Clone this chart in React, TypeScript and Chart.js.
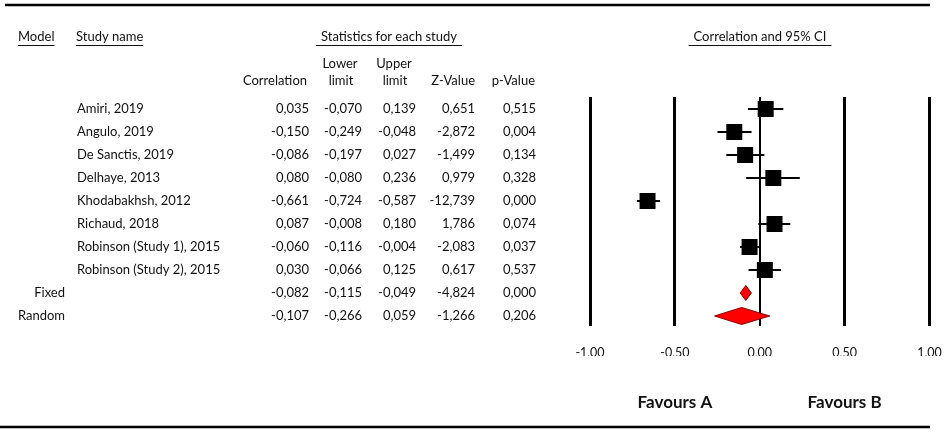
import React, { useEffect, useRef } from "react";
import { Chart, registerables } from "chart.js";

Chart.register(...registerables);

const studies = [
  "Amiri, 2019",
  "Angulo, 2019",
  "De Sanctis, 2019",
  "Delhaye, 2013",
  "Khodabakhsh, 2012",
  "Richaud, 2018",
  "Robinson (Study 1), 2015",
  "Robinson (Study 2), 2015",
];
const correlation = [0.035, -0.15, -0.086, 0.08, -0.661, 0.087, -0.06, 0.03];
const lowerLimit = [-0.07, -0.249, -0.197, -0.08, -0.724, -0.008, -0.116, -0.066];
const upperLimit = [0.139, -0.048, 0.027, 0.236, -0.587, 0.18, -0.004, 0.125];
const zValue = [0.651, -2.872, -1.499, 0.979, -12.739, 1.786, -2.083, 0.617];
const pValue = [0.515, 0.004, 0.134, 0.328, 0.0, 0.074, 0.037, 0.537];

const models = ["Fixed", "Random"];
const modelCorrelation = [-0.082, -0.107];
const modelLower = [-0.115, -0.266];
const modelUpper = [-0.049, 0.059];
const modelZ = [-4.824, -1.266];
const modelP = [0.0, 0.206];

const xTicks = [-1, -0.5, 0, 0.5, 1];
const xTickLabels = ["-1,00", "-0,50", "0,00", "0,50", "1,00"];
const favours = ["Favours A", "Favours B"];
const favoursAt = [-0.5, 0.5];

const FONT = "Lato, 'Open Sans', sans-serif";
const TEXT = "#111111";

const fmt3 = (v: number) => v.toFixed(3).replace(".", ",");

const tablePlugin = {
  id: "forestTable",
  beforeDatasetsDraw(chart: any) {
    const ctx = chart.ctx;
    const xs = chart.scales.x;
    const ys = chart.scales.y;
    ctx.save();
    ctx.strokeStyle = "#000";
    ctx.lineWidth = 2;
    studies.forEach((_, i) => {
      const y = ys.getPixelForValue(i);
      ctx.beginPath();
      ctx.moveTo(xs.getPixelForValue(lowerLimit[i]), y);
      ctx.lineTo(xs.getPixelForValue(upperLimit[i]), y);
      ctx.stroke();
    });
    const halfH = [7.5, 8.5];
    models.forEach((_, k) => {
      const y = ys.getPixelForValue(studies.length + k);
      const l = xs.getPixelForValue(modelLower[k]);
      const c = xs.getPixelForValue(modelCorrelation[k]);
      const r = xs.getPixelForValue(modelUpper[k]);
      ctx.beginPath();
      ctx.moveTo(l, y);
      ctx.lineTo(c, y - halfH[k]);
      ctx.lineTo(r, y);
      ctx.lineTo(c, y + halfH[k]);
      ctx.closePath();
      ctx.fillStyle = "#ff0000";
      ctx.fill();
      ctx.strokeStyle = "#8a0000";
      ctx.lineWidth = 1;
      ctx.stroke();
    });
    ctx.restore();
  },
  afterDraw(chart: any) {
    const ctx = chart.ctx;
    const xs = chart.scales.x;
    const ys = chart.scales.y;
    ctx.save();
    ctx.fillStyle = TEXT;
    ctx.strokeStyle = TEXT;
    ctx.textBaseline = "middle";
    ctx.font = `13px ${FONT}`;

    const underline = (text: string, x: number, y: number, align: string, extra = 4) => {
      ctx.textAlign = align;
      ctx.fillText(text, x, y);
      const w = ctx.measureText(text).width;
      let x0 = x;
      if (align === "center") x0 = x - w / 2;
      if (align === "right") x0 = x - w;
      ctx.beginPath();
      ctx.lineWidth = 1;
      ctx.moveTo(x0 - extra, y + 8.5);
      ctx.lineTo(x0 + w + extra, y + 8.5);
      ctx.stroke();
    };

    underline("Model", 18, 37, "left", 0);
    underline("Study name", 76, 37, "left", 0);
    underline("Statistics for each study", 389, 37, "center", 5);
    underline("Correlation and 95% CI", 760, 37, "center", 5);

    ctx.textAlign = "right";
    ctx.fillText("Correlation", 307, 81);
    ctx.textAlign = "center";
    ctx.fillText("Lower", 340, 64);
    ctx.fillText("limit", 341, 81);
    ctx.fillText("Upper", 394, 64);
    ctx.fillText("limit", 395, 81);
    ctx.textAlign = "right";
    ctx.fillText("Z-Value", 475, 81);
    ctx.fillText("p-Value", 535, 81);

    const colRight = [309, 362, 416, 475, 536];
    studies.forEach((name, i) => {
      const y = ys.getPixelForValue(i);
      ctx.textAlign = "left";
      ctx.fillText(name, 77, y);
      ctx.textAlign = "right";
      const vals = [correlation[i], lowerLimit[i], upperLimit[i], zValue[i], pValue[i]];
      vals.forEach((v, j) => ctx.fillText(fmt3(v), colRight[j], y));
    });
    models.forEach((name, k) => {
      const y = ys.getPixelForValue(studies.length + k);
      ctx.textAlign = "right";
      ctx.fillText(name, 65, y);
      const vals = [modelCorrelation[k], modelLower[k], modelUpper[k], modelZ[k], modelP[k]];
      vals.forEach((v, j) => ctx.fillText(fmt3(v), colRight[j], y));
    });

    ctx.font = `bold 17px ${FONT}`;
    ctx.textAlign = "center";
    favours.forEach((f, k) => ctx.fillText(f, xs.getPixelForValue(favoursAt[k]), 403));

    ctx.strokeStyle = "#000";
    ctx.lineWidth = 2.5;
    ctx.beginPath();
    ctx.moveTo(5, 5);
    ctx.lineTo(930, 5);
    ctx.stroke();
    ctx.beginPath();
    ctx.moveTo(0, 427);
    ctx.lineTo(930, 427);
    ctx.stroke();
    ctx.restore();
  },
};

export default function App() {
  const ref = useRef<HTMLCanvasElement | null>(null);
  useEffect(() => {
    if (!ref.current) return;
    const chart = new Chart(ref.current, {
      type: "scatter",
      data: {
        datasets: [
          {
            data: correlation.map((c, i) => ({ x: c, y: i })),
            pointStyle: "rect",
            pointRadius: 11.3,
            backgroundColor: "#000",
            borderWidth: 0,
          },
        ],
      },
      options: {
        responsive: false,
        animation: false,
        events: [],
        layout: { padding: { left: 590, right: 19.5, top: 97, bottom: 81 } },
        plugins: { legend: { display: false }, tooltip: { enabled: false } },
        scales: {
          x: {
            type: "linear",
            min: -1,
            max: 1,
            afterBuildTicks: (scale: any) => {
              scale.ticks = xTicks.map((v) => ({ value: v }));
            },
            afterTickToLabelConversion: (scale: any) => {
              scale.ticks.forEach((t: any) => {
                const idx = xTicks.indexOf(t.value);
                t.label = idx >= 0 ? xTickLabels[idx] : "";
              });
            },
            afterFit: (scale: any) => {
              scale.height = 30;
              scale.paddingLeft = 0;
              scale.paddingRight = 0;
            },
            grid: {
              color: "#000",
              lineWidth: (c: any) => (c.tick && c.tick.value === 0 ? 2 : 3),
              drawTicks: false,
            },
            border: { display: false },
            ticks: {
              padding: 19,
              color: TEXT,
              font: { family: FONT, size: 12.5 },
            },
          },
          y: {
            type: "linear",
            display: false,
            reverse: true,
            min: -0.52,
            max: 9.435,
          },
        },
      },
      plugins: [tablePlugin],
    });
    return () => chart.destroy();
  }, []);
  return (
    <div style={{ position: "fixed", left: 0, top: 0, width: 949, height: 437, background: "#fff" }}>
      <canvas ref={ref} width={949} height={437} style={{ display: "block" }} />
    </div>
  );
}
